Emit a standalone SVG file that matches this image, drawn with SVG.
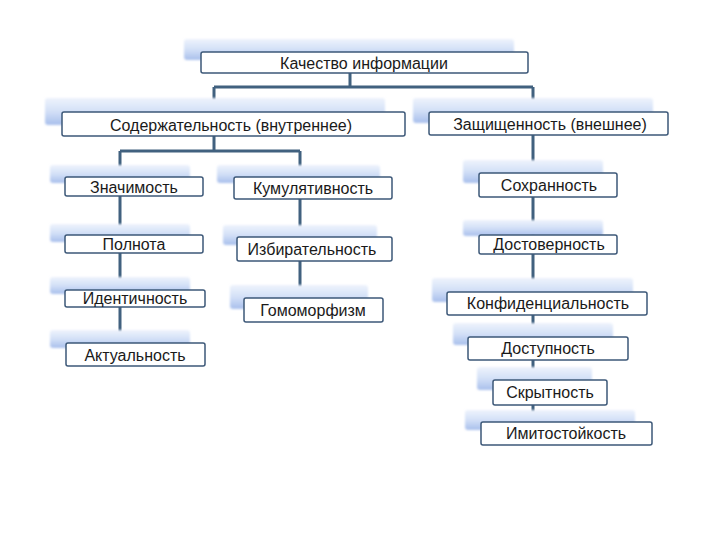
<svg xmlns="http://www.w3.org/2000/svg" width="720" height="540" viewBox="0 0 720 540">
<defs>
<linearGradient id="bgGrad" x1="0" y1="0" x2="0" y2="1">
<stop offset="0" stop-color="#eef3fc"/>
<stop offset="0.5" stop-color="#d3e0f7"/>
<stop offset="1" stop-color="#a8bfec"/>
</linearGradient>
<filter id="soft" x="-10%" y="-40%" width="120%" height="180%">
<feGaussianBlur stdDeviation="1.2"/>
</filter>
<style>
.bg{fill:url(#bgGrad);filter:url(#soft)}
.box{fill:#ffffff;stroke:#3d5878;stroke-width:1.5}
.lbl{font-family:"Liberation Sans","DejaVu Sans",sans-serif;font-size:16px;fill:#1a1a1a;text-anchor:middle;dominant-baseline:central}
.con{stroke:#41617f;stroke-width:3;fill:none}
</style>
</defs>
<rect width="720" height="540" fill="#ffffff"/>
<g id="connectors">
<path class="con" d="M350 73 V87 M214 87 H533 M214 87 V151 M533 87 V422 M120 151 H300 M120 151 V343 M300 151 V298"/>
</g>
<g id="n-top">
<rect class="bg" x="184" y="39" width="330" height="21" rx="3"/>
<rect class="box" x="201" y="52" width="327" height="21" rx="2"/>
<text class="lbl" x="364" y="63">Качество информации</text>
</g>
<g id="n-content">
<rect class="bg" x="45" y="98" width="340" height="27" rx="3"/>
<rect class="box" x="62" y="112" width="343" height="24" rx="2"/>
<text class="lbl" x="231" y="125">Содержательность (внутреннее)</text>
</g>
<g id="n-protect">
<rect class="bg" x="413" y="98" width="240" height="25" rx="3"/>
<rect class="box" x="429" y="112" width="239" height="23" rx="2"/>
<text class="lbl" x="550" y="124">Защищенность (внешнее)</text>
</g>
<g id="n-znach">
<rect class="bg" x="50" y="165" width="140" height="18" rx="3"/>
<rect class="box" x="65" y="177" width="138" height="19" rx="2"/>
<text class="lbl" x="134" y="187">Значимость</text>
</g>
<g id="n-kumul">
<rect class="bg" x="217" y="165" width="163" height="18" rx="3"/>
<rect class="box" x="234" y="177" width="158" height="22" rx="2"/>
<text class="lbl" x="313" y="188">Кумулятивность</text>
</g>
<g id="n-polnota">
<rect class="bg" x="50" y="224" width="140" height="18" rx="3"/>
<rect class="box" x="65" y="235" width="138" height="18" rx="2"/>
<text class="lbl" x="134" y="244">Полнота</text>
</g>
<g id="n-izbir">
<rect class="bg" x="223" y="225" width="154" height="20" rx="3"/>
<rect class="box" x="237" y="237" width="155" height="24" rx="2"/>
<text class="lbl" x="312" y="249">Избирательность</text>
</g>
<g id="n-ident">
<rect class="bg" x="50" y="277" width="140" height="17" rx="3"/>
<rect class="box" x="65" y="290" width="140" height="17" rx="2"/>
<text class="lbl" x="135" y="298">Идентичность</text>
</g>
<g id="n-gomo">
<rect class="bg" x="230" y="285" width="138" height="24" rx="3"/>
<rect class="box" x="244" y="298" width="139" height="24" rx="2"/>
<text class="lbl" x="313" y="310">Гомоморфизм</text>
</g>
<g id="n-aktual">
<rect class="bg" x="50" y="330" width="140" height="18" rx="3"/>
<rect class="box" x="66" y="343" width="139" height="23" rx="2"/>
<text class="lbl" x="135" y="355">Актуальность</text>
</g>
<g id="n-sohran">
<rect class="bg" x="463" y="160" width="140" height="23" rx="3"/>
<rect class="box" x="479" y="173" width="138" height="24" rx="2"/>
<text class="lbl" x="549" y="185">Сохранность</text>
</g>
<g id="n-dostover">
<rect class="bg" x="463" y="220" width="140" height="16" rx="3"/>
<rect class="box" x="479" y="235" width="138" height="19" rx="2"/>
<text class="lbl" x="549" y="244">Достоверность</text>
</g>
<g id="n-konf">
<rect class="bg" x="432" y="278" width="201" height="24" rx="3"/>
<rect class="box" x="447" y="292" width="200" height="23" rx="2"/>
<text class="lbl" x="548" y="303">Конфиденциальность</text>
</g>
<g id="n-dostup">
<rect class="bg" x="453" y="323" width="160" height="22" rx="3"/>
<rect class="box" x="468" y="337" width="160" height="23" rx="2"/>
<text class="lbl" x="548" y="348">Доступность</text>
</g>
<g id="n-skryt">
<rect class="bg" x="477" y="367" width="115" height="23" rx="3"/>
<rect class="box" x="493" y="380" width="114" height="25" rx="2"/>
<text class="lbl" x="550" y="392">Скрытность</text>
</g>
<g id="n-imit">
<rect class="bg" x="465" y="410" width="170" height="20" rx="3"/>
<rect class="box" x="481" y="422" width="171" height="23" rx="2"/>
<text class="lbl" x="566" y="433">Имитостойкость</text>
</g>
</svg>
